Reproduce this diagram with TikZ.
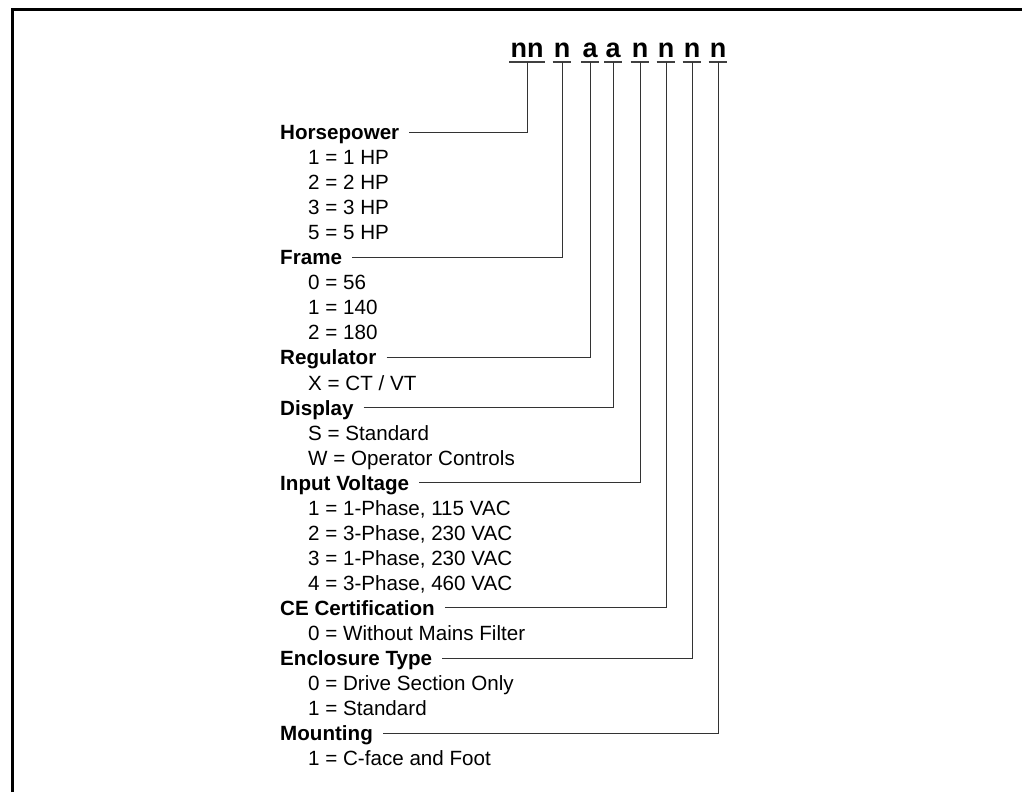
\documentclass[tikz,border=0pt]{standalone}
\usepackage{fontspec}
\setmainfont{Liberation Sans}
\begin{document}
\begin{tikzpicture}[x=1pt,y=-1pt,
  hdr/.style={font=\fontsize{27}{31}\selectfont\bfseries, anchor=south, inner xsep=1pt, inner ysep=0pt, text depth=4pt},
  head/.style={font=\fontsize{20.6}{24}\selectfont\bfseries, anchor=west, inner sep=0pt, text height=15pt, text depth=0pt},
  item/.style={font=\fontsize{20.6}{24}\selectfont, anchor=west, inner sep=0pt, text height=15pt, text depth=0pt},
  uline/.style={line width=1.2pt, black!75},
  conn/.style={line width=1pt, black!80},
  frameline/.style={line width=3pt}]
\useasboundingbox (0,0) rectangle (1022,792);
\draw[frameline] (12.5,792) -- (12.5,9.7) -- (1022,9.7);
% header code letters
\node[hdr] (c1) at (527,62) {nn};
\node[hdr] (c2) at (562,62) {n};
\node[hdr] (c3) at (590,62) {a};
\node[hdr] (c4) at (613,62) {a};
\node[hdr] (c5) at (640,62) {n};
\node[hdr] (c6) at (666,62) {n};
\node[hdr] (c7) at (692,62) {n};
\node[hdr] (c8) at (718,62) {n};
\foreach \c in {c1,c2,c3,c4,c5,c6,c7,c8}
  \draw[uline] (\c.south west) -- (\c.south east);
% rows
\def\ry#1{132+25.05*#1}
\node[head] (hp) at (280,{\ry{0}}) {Horsepower};
\node[item] (hp1) at (308,{\ry{1}}) {1 = 1 HP};
\node[item] (hp2) at (308,{\ry{2}}) {2 = 2 HP};
\node[item] (hp3) at (308,{\ry{3}}) {3 = 3 HP};
\node[item] (hp5) at (308,{\ry{4}}) {5 = 5 HP};
\node[head] (fr) at (280,{\ry{5}}) {Frame};
\node[item] (fr0) at (308,{\ry{6}}) {0 = 56};
\node[item] (fr1) at (308,{\ry{7}}) {1 = 140};
\node[item] (fr2) at (308,{\ry{8}}) {2 = 180};
\node[head] (rg) at (280,{\ry{9}}) {Regulator};
\node[item] (rgx) at (308,{\ry{10}}) {X = CT / VT};
\node[head] (dp) at (280,{\ry{11}}) {Display};
\node[item] (dps) at (308,{\ry{12}}) {S = Standard};
\node[item] (dpw) at (308,{\ry{13}}) {W = Operator Controls};
\node[head] (iv) at (280,{\ry{14}}) {Input Voltage};
\node[item] (iv1) at (308,{\ry{15}}) {1 = 1-Phase, 115 VAC};
\node[item] (iv2) at (308,{\ry{16}}) {2 = 3-Phase, 230 VAC};
\node[item] (iv3) at (308,{\ry{17}}) {3 = 1-Phase, 230 VAC};
\node[item] (iv4) at (308,{\ry{18}}) {4 = 3-Phase, 460 VAC};
\node[head] (ce) at (280,{\ry{19}}) {CE Certification};
\node[item] (ce0) at (308,{\ry{20}}) {0 = Without Mains Filter};
\node[head] (en) at (280,{\ry{21}}) {Enclosure Type};
\node[item] (en0) at (308,{\ry{22}}) {0 = Drive Section Only};
\node[item] (en1) at (308,{\ry{23}}) {1 = Standard};
\node[head] (mt) at (280,{\ry{24}}) {Mounting};
\node[item] (mt1) at (308,{\ry{25}}) {1 = C-face and Foot};
% connectors
\draw[conn] ([xshift=10pt]hp.east) -| (c1.south);
\draw[conn] ([xshift=10pt]fr.east) -| (c2.south);
\draw[conn] ([xshift=10pt]rg.east) -| (c3.south);
\draw[conn] ([xshift=10pt]dp.east) -| (c4.south);
\draw[conn] ([xshift=10pt]iv.east) -| (c5.south);
\draw[conn] ([xshift=10pt]ce.east) -| (c6.south);
\draw[conn] ([xshift=10pt]en.east) -| (c7.south);
\draw[conn] ([xshift=10pt]mt.east) -| (c8.south);
\end{tikzpicture}
\end{document}
